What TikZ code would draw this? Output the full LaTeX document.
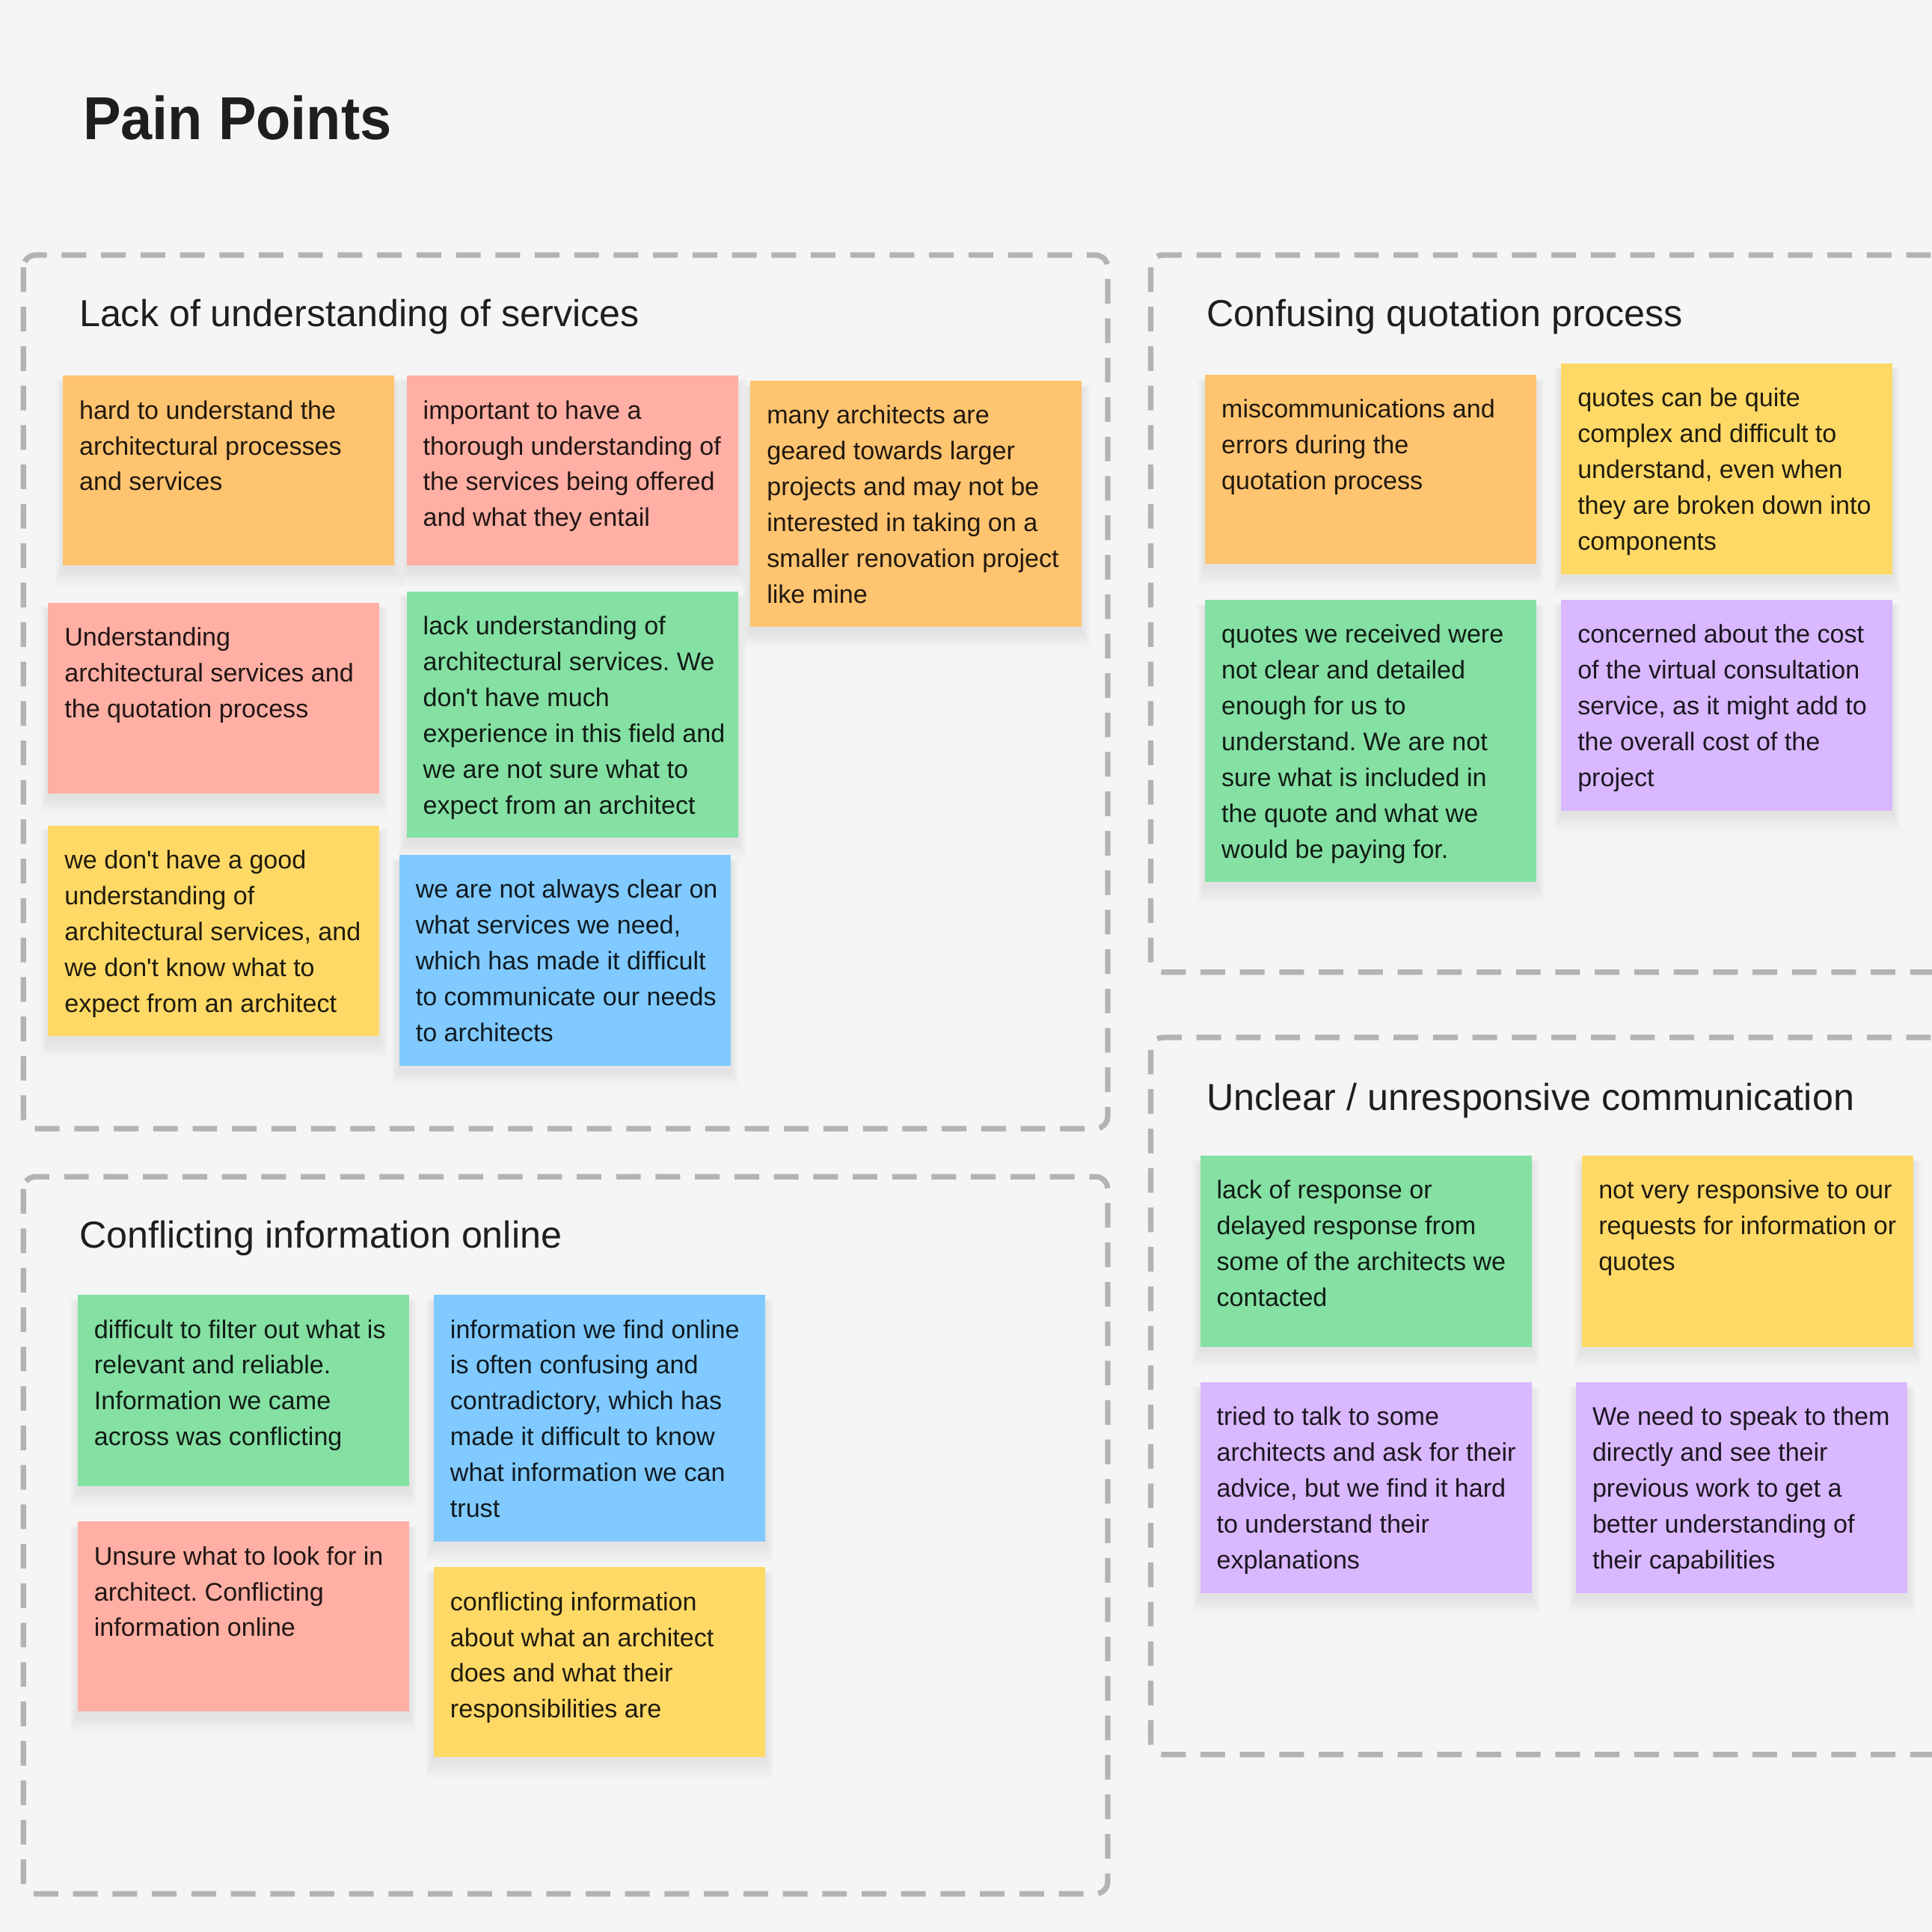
\documentclass[tikz,border=0pt]{standalone}
\usepackage{fontspec}
\newfontfamily\uifont{Liberation Sans}
\definecolor{bg}{HTML}{F5F5F5}
\definecolor{sorange}{HTML}{FFC470}
\definecolor{spink}{HTML}{FFAFA3}
\definecolor{sgreen}{HTML}{85E0A3}
\definecolor{syellow}{HTML}{FFD966}
\definecolor{sblue}{HTML}{80CAFF}
\definecolor{spurple}{HTML}{D9B8FF}
\definecolor{frame}{HTML}{B3B3B3}
\definecolor{ink}{HTML}{1E1E1E}
\tikzset{
  groupframe/.style={draw=frame, line width=2.2pt, dash pattern=on 10pt off 6pt, rounded corners=5pt},
  notebox/.style={anchor=north west, inner sep=0pt, outer sep=0pt},
  notetext/.style={anchor=base west, inner sep=0pt, text=black, text opacity=0.87},
  heading/.style={anchor=base west, inner sep=0pt, text=ink, font=\uifont\fontsize{15.25pt}{18pt}\selectfont},
}
% #1 name, #2 colour, #3 x1, #4 y1, #5 x2, #6 y2, #7 text
\newcommand\mysticky[7]{%
  \foreach \i in {1,...,6}{
    \fill[black, opacity=0.012] (#3-\i*1.1, #4+6-\i*0.5) rectangle (#5+\i*1.1, #6+3+\i*2.3);
  }
  \node[notebox, fill=#2, minimum width={(#5-#3)*0.5pt}, minimum height={(#6-#4)*0.5pt}] (#1) at (#3,#4) {};
  \node[notetext] (#1t) at (#3+13,#4+35) {\parbox[t]{200pt}{\raggedright\uifont\frenchspacing\fontsize{10.35pt}{14.55pt}\selectfont #7}};
}
\begin{document}
\begin{tikzpicture}[x=0.5pt,y=-0.5pt]
\fill[bg] (0,0) rectangle (1568,1568);
\useasboundingbox (0,0) rectangle (1568,1568);
\clip (0,0) rectangle (1568,1568);

\node[anchor=base west, inner sep=0pt, text=ink] (title) at (67,113)
  {\scalebox{0.935}[1]{\uifont\fontsize{24.6pt}{28pt}\selectfont\bfseries Pain Points}};

% group frames
\draw[groupframe] (19,207) rectangle (899,916);
\draw[groupframe] (934,207) rectangle (1640,789);
\draw[groupframe] (19,955) rectangle (899,1537);
\draw[groupframe] (934,842) rectangle (1640,1424);

\node[heading] (h1) at (64,265) {Lack of understanding of services};
\node[heading] (h2) at (979,265) {Confusing quotation process};
\node[heading] (h3) at (64,1013) {Conflicting information online};
\node[heading] (h4) at (979,901) {Unclear / unresponsive communication};

% group 1
\mysticky{n1}{sorange}{51}{305}{320}{459}{hard to understand the\\architectural processes\\and services}
\mysticky{n2}{spink}{330}{305}{599}{459}{important to have a\\thorough understanding of\\the services being offered\\and what they entail}
\mysticky{n3}{sorange}{609}{309}{878}{509}{many architects are\\geared towards larger\\projects and may not be\\interested in taking on a\\smaller renovation project\\like mine}
\mysticky{n4}{spink}{39}{489}{308}{644}{Understanding\\architectural services and\\the quotation process}
\mysticky{n5}{sgreen}{330}{480}{599}{680}{lack understanding of\\architectural services. We\\don't have much\\experience in this field and\\we are not sure what to\\expect from an architect}
\mysticky{n6}{syellow}{39}{670}{308}{841}{we don't have a good\\understanding of\\architectural services, and\\we don't know what to\\expect from an architect}
\mysticky{n7}{sblue}{324}{694}{593}{865}{we are not always clear on\\what services we need,\\which has made it difficult\\to communicate our needs\\to architects}

% group 2
\mysticky{n8}{sorange}{978}{304}{1247}{458}{miscommunications and\\errors during the\\quotation process}
\mysticky{n9}{syellow}{1267}{295}{1536}{466}{quotes can be quite\\complex and difficult to\\understand, even when\\they are broken down into\\components}
\mysticky{n10}{sgreen}{978}{487}{1247}{716}{quotes we received were\\not clear and detailed\\enough for us to\\understand. We are not\\sure what is included in\\the quote and what we\\would be paying for.}
\mysticky{n11}{spurple}{1267}{487}{1536}{658}{concerned about the cost\\of the virtual consultation\\service, as it might add to\\the overall cost of the\\project}

% group 3
\mysticky{n12}{sgreen}{63}{1051}{332}{1206}{difficult to filter out what is\\relevant and reliable.\\Information we came\\across was conflicting}
\mysticky{n13}{sblue}{352}{1051}{621}{1251}{information we find online\\is often confusing and\\contradictory, which has\\made it difficult to know\\what information we can\\trust}
\mysticky{n14}{spink}{63}{1235}{332}{1389}{Unsure what to look for in\\architect. Conflicting\\information online}
\mysticky{n15}{syellow}{352}{1272}{621}{1426}{conflicting information\\about what an architect\\does and what their\\responsibilities are}

% group 4
\mysticky{n16}{sgreen}{974}{938}{1243}{1093}{lack of response or\\delayed response from\\some of the architects we\\contacted}
\mysticky{n17}{syellow}{1284}{938}{1553}{1093}{not very responsive to our\\requests for information or\\quotes}
\mysticky{n18}{spurple}{974}{1122}{1243}{1293}{tried to talk to some\\architects and ask for their\\advice, but we find it hard\\to understand their\\explanations}
\mysticky{n19}{spurple}{1279}{1122}{1548}{1293}{We need to speak to them\\directly and see their\\previous work to get a\\better understanding of\\their capabilities}
\end{tikzpicture}
\end{document}
